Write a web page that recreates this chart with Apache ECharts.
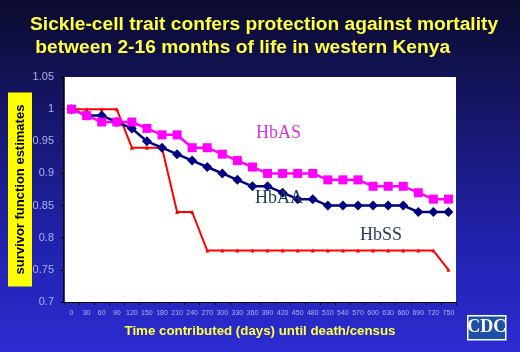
<!DOCTYPE html>
<html>
<head>
<meta charset="utf-8">
<script src="https://cdn.jsdelivr.net/npm/echarts@6/dist/echarts.min.js"></script>
<style>
  html, body { margin: 0; padding: 0; }
  #chart {
    width: 520px; height: 352px;
    background: linear-gradient(to bottom, #0b0b2e 0%, #17176e 35%, #2222b0 70%, #2c2cd2 100%);
  }
</style>
</head>
<body>
<div id="chart"></div>
<script>
// days since enrolment
const days = ["0", "30", "60", "90", "120", "150", "180", "210", "240", "270", "300", "330", "360",
  "390", "420", "450", "480", "510", "540", "570", "600", "630", "660", "690", "720", "750"];

// survivor function estimates
const hbAS = [1, 0.99, 0.98, 0.98, 0.98, 0.97, 0.96, 0.96, 0.94, 0.94, 0.93, 0.92, 0.91,
  0.90, 0.90, 0.90, 0.90, 0.89, 0.89, 0.89, 0.88, 0.88, 0.88, 0.87, 0.86, 0.86];
const hbAA = [1, 0.99, 0.99, 0.98, 0.97, 0.95, 0.94, 0.93, 0.92, 0.91, 0.90, 0.89, 0.88,
  0.88, 0.87, 0.86, 0.86, 0.85, 0.85, 0.85, 0.85, 0.85, 0.85, 0.84, 0.84, 0.84];
const hbSS = [1, 1, 1, 1, 0.94, 0.94, 0.94, 0.84, 0.84, 0.78, 0.78, 0.78, 0.78,
  0.78, 0.78, 0.78, 0.78, 0.78, 0.78, 0.78, 0.78, 0.78, 0.78, 0.78, 0.78, 0.75];

const chart = echarts.init(document.getElementById("chart"));

const yellow = "#ffff44";
const axisText = "#aeb2f2";

chart.setOption({
  backgroundColor: "transparent",
  animation: false,
  title: {
    text: "Sickle-cell trait confers protection against mortality\n between 2-16 months of life in western Kenya",
    left: 25,
    top: 8,
    textStyle: {
      color: yellow,
      fontFamily: "Liberation Sans",
      fontWeight: "bold",
      fontSize: 19.2,
      lineHeight: 23
    }
  },
  grid: {
    left: 64, right: 64, top: 77, bottom: 50,
    outerBoundsMode: "none",
    containLabel: false,
    show: true,
    backgroundColor: "#ffffff",
    borderWidth: 0
  },
  xAxis: {
    type: "category",
    data: days,
    boundaryGap: true,
    name: "Time contributed (days) until death/census",
    nameLocation: "middle",
    nameGap: 23,
    nameTextStyle: { color: yellow, fontFamily: "Liberation Sans", fontWeight: "bold", fontSize: 13.3 },
    axisLine: { lineStyle: { color: "#000000", width: 1 } },
    axisTick: { show: true, length: 3, lineStyle: { color: "#000000" } },
    axisLabel: { interval: 0, color: axisText, fontSize: 7, fontFamily: "Liberation Sans", margin: 8 },
    splitLine: { show: false }
  },
  yAxis: {
    type: "value",
    min: 0.7,
    max: 1.05,
    interval: 0.05,
    name: "survivor function estimates",
    nameLocation: "middle",
    nameRotate: 90,
    nameGap: 32,
    nameMoveOverlap: false,
    nameTextStyle: {
      color: "#000000",
      fontFamily: "Liberation Sans",
      fontWeight: "bold",
      fontSize: 13,
      lineHeight: 15,
      backgroundColor: "#ffff00",
      padding: [5, 12, 4, 12]
    },
    axisLine: { show: true, lineStyle: { color: "#000000", width: 1.5 } },
    axisTick: { show: true, length: 3, lineStyle: { color: "#000000" } },
    axisLabel: { color: axisText, fontSize: 11, fontFamily: "Liberation Sans", margin: 10 },
    splitLine: { show: false }
  },
  series: [
    {
      name: "HbSS",
      type: "line",
      data: hbSS,
      symbol: "triangle",
      symbolSize: 4,
      lineStyle: { color: "#ff0000", width: 2 },
      itemStyle: { color: "#ff0000" }
    },
    {
      name: "HbAA",
      type: "line",
      data: hbAA,
      symbol: "diamond",
      symbolSize: 10,
      lineStyle: { color: "#000080", width: 2.5 },
      itemStyle: { color: "#000080" }
    },
    {
      name: "HbAS",
      type: "line",
      data: hbAS,
      symbol: "rect",
      symbolSize: 9,
      lineStyle: { color: "#ff00ff", width: 2.5 },
      itemStyle: { color: "#ff00ff" }
    }
  ],
  graphic: [
    {
      type: "text", left: 256, top: 124, z: 10,
      style: { text: "HbAS", fill: "#d43ad4", font: "18px 'Liberation Serif'" }
    },
    {
      type: "text", left: 255, top: 189, z: 10,
      style: { text: "HbAA", fill: "#1c3858", font: "18px 'Liberation Serif'" }
    },
    {
      type: "text", left: 360, top: 226, z: 10,
      style: { text: "HbSS", fill: "#2a3c5c", font: "18px 'Liberation Serif'" }
    },
    {
      type: "group", left: 467, top: 315,
      children: [
        { type: "rect", shape: { x: 0, y: 0, width: 38, height: 24 },
          style: { fill: "#1d50a8", stroke: "#ffffff", lineWidth: 1.5 } },
        { type: "text", x: 19, y: 12,
          style: { text: "CDC", fill: "#ffffff", font: "bold 18px 'Liberation Serif'", align: "center", verticalAlign: "middle" } }
      ]
    }
  ]
});
</script>
</body>
</html>
